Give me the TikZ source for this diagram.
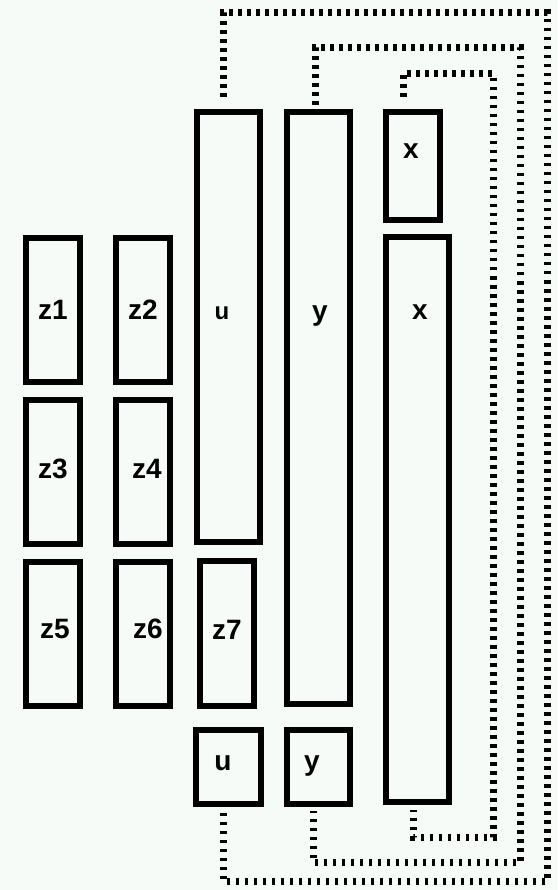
\documentclass[tikz,border=0pt]{standalone}
\usepackage{fontspec}
\setmainfont{Liberation Sans}
\definecolor{bgc}{RGB}{247,251,248}
\tikzset{
  box/.style={draw=black, line width=6pt, fill=bgc, inner sep=0pt},
  lab/.style={font=\fontsize{28}{28}\selectfont\bfseries, inner sep=0pt},
  slab/.style={font=\fontsize{24}{24}\selectfont\bfseries, inner sep=0pt},
  dotl/.style={draw=black, line width=7pt, dash pattern=on 3.5pt off 5.5pt}
}
\begin{document}
\begin{tikzpicture}[x=1pt,y=-1pt]
\fill[bgc] (0,0) rectangle (557,890);
\useasboundingbox (0,0) rectangle (557,890);
% left boxes
\node[box, minimum width=54pt, minimum height=144pt] (z1) at (53,310) {};
\node[box, minimum width=54pt, minimum height=144pt] (z2) at (143,310) {};
\node[box, minimum width=54pt, minimum height=144pt] (z3) at (53,472) {};
\node[box, minimum width=54pt, minimum height=144pt] (z4) at (143,472) {};
\node[box, minimum width=54pt, minimum height=144pt] (z5) at (53,634) {};
\node[box, minimum width=54pt, minimum height=144pt] (z6) at (143,634) {};
% u column
\node[box, minimum width=63pt, minimum height=430pt] (ubig) at (228.5,327) {};
\node[box, minimum width=54pt, minimum height=145pt] (z7) at (227,633.5) {};
\node[box, minimum width=65pt, minimum height=74pt] (usmall) at (228.5,767) {};
% y column
\node[box, minimum width=63pt, minimum height=592pt] (ybig) at (318.5,408) {};
\node[box, minimum width=63pt, minimum height=74pt] (ysmall) at (318.5,767) {};
% x column
\node[box, minimum width=54pt, minimum height=108pt] (xsmall) at (413,166) {};
\node[box, minimum width=63pt, minimum height=565pt] (xbig) at (417.5,519.5) {};
% labels
\node[lab] (lz1) at (53,310) {z1};
\node[lab] (lz2) at (143,310) {z2};
\node[lab] (lz3) at (53,469) {z3};
\node[lab] (lz4) at (147,469) {z4};
\node[lab] (lz5) at (55,629) {z5};
\node[lab] (lz6) at (148,629) {z6};
\node[lab] (lz7) at (227,630) {z7};
\node[slab] (lubig) at (222,313) {u};
\node[lab] (lybig) at (320,316) {y};
\node[lab] (lxbig) at (420,312) {x};
\node[lab] (lxsmall) at (411,151) {x};
\node[lab] (lusmall) at (223,763) {u};
\node[lab] (lysmall) at (312,766) {y};
% corner coordinates
\coordinate (o1) at (547,13);
\coordinate (o2) at (547,881);
\coordinate (m1) at (520,48);
\coordinate (m2) at (520,862);
\coordinate (i1) at (493,74);
\coordinate (i2) at (493,837);
% connectors
\draw[dotl] ([xshift=-5.5pt,yshift=12pt]ubig.north) |- (o1) -- (o2) -| ([xshift=-5.5pt,yshift=-4pt]usmall.south);
\draw[dotl] ([xshift=-3.5pt,yshift=4pt]ybig.north) |- (m1) -- (m2) -| ([xshift=-5.5pt,yshift=-4pt]ysmall.south);
\draw[dotl] ([xshift=-10pt,yshift=12pt]xsmall.north) |- (i1) -- (i2) -| ([xshift=-4.5pt,yshift=-5pt]xbig.south);
\end{tikzpicture}
\end{document}
